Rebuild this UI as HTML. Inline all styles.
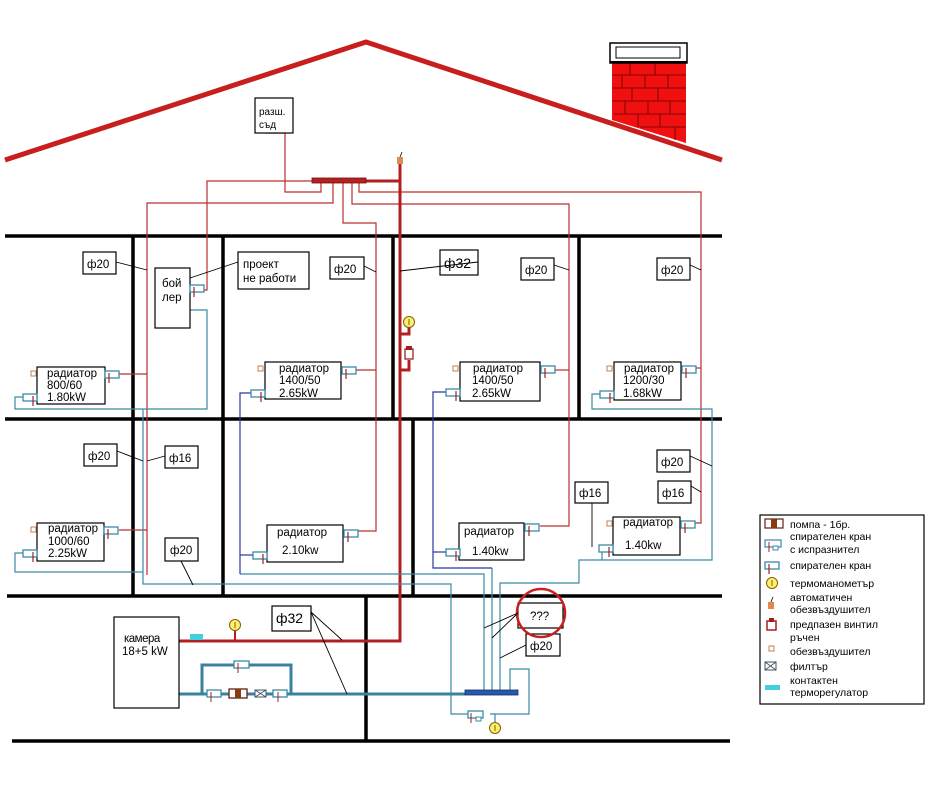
<!DOCTYPE html>
<html><head><meta charset="utf-8"><style>
html,body{margin:0;padding:0;background:#fff}
svg{display:block}
text{font-family:"Liberation Sans",sans-serif;font-size:11.5px;fill:#000}
</style></head><body>
<svg width="942" height="797" viewBox="0 0 942 797" xmlns="http://www.w3.org/2000/svg">
<defs>
<g id="v"><rect x="0" y="0" width="14" height="7" fill="#fff" stroke="#3a8aa8" stroke-width="1.3"/><line x1="4" y1="2" x2="4" y2="12" stroke="#a02020" stroke-width="1.2"/></g>
<g id="vl"><rect x="0" y="0" width="14" height="7" fill="#fff" stroke="#3a8aa8" stroke-width="1.3"/><line x1="10" y1="2" x2="10" y2="12" stroke="#a02020" stroke-width="1.2"/></g>
<g id="av"><rect x="0" y="0" width="5" height="5" fill="#fff" stroke="#c08050" stroke-width="1"/></g>
<g id="tm"><circle cx="0" cy="0" r="5.5" fill="#ffef70" stroke="#806000" stroke-width="1"/><line x1="0" y1="-3" x2="0" y2="3" stroke="#806000" stroke-width="1"/></g>
</defs>

<!-- roof -->
<polyline points="5,160 366,42 722,160" fill="none" stroke="#c81e1e" stroke-width="5"/>
<!-- chimney -->
<polygon points="612,62 686,62 686,143 612,120" fill="#f01010"/>
<g stroke="#600" stroke-width="0.8" fill="none">
<line x1="612" y1="75" x2="686" y2="75"/><line x1="612" y1="88" x2="686" y2="88"/><line x1="612" y1="101" x2="686" y2="101"/><line x1="614" y1="114" x2="686" y2="114"/><line x1="640" y1="127" x2="686" y2="127"/>
<line x1="630" y1="62" x2="630" y2="75"/><line x1="655" y1="62" x2="655" y2="75"/><line x1="622" y1="75" x2="622" y2="88"/><line x1="645" y1="75" x2="645" y2="88"/><line x1="668" y1="75" x2="668" y2="88"/>
<line x1="632" y1="88" x2="632" y2="101"/><line x1="658" y1="88" x2="658" y2="101"/><line x1="625" y1="101" x2="625" y2="114"/><line x1="648" y1="101" x2="648" y2="114"/><line x1="670" y1="101" x2="670" y2="114"/>
<line x1="638" y1="114" x2="638" y2="127"/><line x1="660" y1="114" x2="660" y2="127"/><line x1="675" y1="127" x2="675" y2="140"/>
</g>
<rect x="610" y="43" width="77" height="20" fill="#fff" stroke="#000" stroke-width="1.5"/>
<rect x="616" y="47" width="64" height="11" fill="#fff" stroke="#000" stroke-width="1"/>
<line x1="610" y1="62" x2="687" y2="62" stroke="#000" stroke-width="2"/>
<polygon points="612,120 686,143 722,160 686,150" fill="#fff" opacity="0"/>

<!-- floors & walls -->
<g stroke="#000" stroke-width="3.5">
<line x1="5" y1="236" x2="722" y2="236"/>
<line x1="5" y1="419" x2="722" y2="419"/>
<line x1="7" y1="596" x2="722" y2="596"/>
<line x1="12" y1="741" x2="730" y2="741"/>
<line x1="133" y1="236" x2="133" y2="596"/>
<line x1="223" y1="236" x2="223" y2="596"/>
<line x1="393" y1="236" x2="393" y2="419"/>
<line x1="413" y1="419" x2="413" y2="596"/>
<line x1="579" y1="236" x2="579" y2="419"/>
<line x1="366" y1="596" x2="366" y2="741"/>
</g>

<!-- red supply pipes -->
<g fill="none" stroke="#b83030" stroke-width="1.2">
<polyline points="265,133 285,133 285,192 321,192 321,183"/>
<polyline points="147,575 147,203 333,203 333,183"/>
<polyline points="190,290 207,290 207,181 312,181"/>
<polyline points="343,183 343,223 376,223 376,531 357,531"/>
<line x1="356" y1="370" x2="376" y2="370"/>
<polyline points="352,183 352,204 569,204 569,526 540,526"/>
<line x1="555" y1="370" x2="569" y2="370"/>
<polyline points="359,183 359,192 701,192 701,523 694,523"/>
<line x1="696" y1="368" x2="701" y2="368"/>
<line x1="119" y1="374" x2="147" y2="374"/>
<line x1="119" y1="530" x2="147" y2="530"/>
</g>
<g fill="none" stroke="#b02020" stroke-width="3">
<polyline points="179,641 400,641 400,163"/>
<line x1="366" y1="181" x2="400" y2="181"/>
<polyline points="400,334 409,334 409,327"/>
<polyline points="400,370 409,370 409,360"/>
</g>
<rect x="312" y="178" width="54" height="5" fill="#b82020" stroke="#701010" stroke-width="0.8"/>
<rect x="397" y="157" width="6" height="7" fill="#e08a50"/>
<line x1="400" y1="157" x2="402" y2="152" stroke="#000" stroke-width="0.8"/>
<use href="#tm" x="409" y="322"/>
<rect x="405" y="349" width="8" height="10" fill="#fff" stroke="#a02020" stroke-width="1.3"/>
<rect x="406" y="346" width="6" height="4" fill="#a02020"/>

<!-- blue return pipes -->
<g fill="none" stroke="#3a8aa8" stroke-width="1.2">
<polyline points="23,397 15,397 15,409 207,409 207,310 190,310"/>
<polyline points="143,409 143,584 451,584 451,714 468,714"/>
<polyline points="23,553 15,553 15,572 143,572"/>
<polyline points="490,714 529,714 529,669 510,669 510,690"/>
<line x1="495" y1="714" x2="495" y2="722"/>
<polyline points="240,574 484,574 484,690"/>
<polyline points="608,394 592,394 592,409 712,409 712,560 579,560 579,583 500,583 500,690"/>
<polyline points="602,547 602,560"/>
<line x1="492" y1="568" x2="492" y2="690"/>
</g>
<g fill="none" stroke="#2838a0" stroke-width="1.2">
<polyline points="251,393 240,393 240,574"/>
<polyline points="240,555 253,555"/>
<polyline points="447,392 433,392 433,568 492,568"/>
<polyline points="433,552 446,552"/>
</g>
<g fill="none" stroke="#3a80a0" stroke-width="3">
<polyline points="179,694 465,694"/>
<polyline points="202,694 202,665 291,665 291,694"/>
</g>
<rect x="190" y="634" width="13" height="6" fill="#40d0e0"/>
<line x1="235" y1="630" x2="235" y2="641" stroke="#b02020" stroke-width="2"/>
<use href="#tm" x="235" y="625"/>
<rect x="234" y="661" width="15" height="7" fill="#fff" stroke="#3a8aa8" stroke-width="1.3"/><line x1="238" y1="663" x2="238" y2="673" stroke="#a02020"/>
<rect x="207" y="690" width="14" height="7" fill="#fff" stroke="#3a8aa8" stroke-width="1.3"/><line x1="211" y1="692" x2="211" y2="702" stroke="#a02020"/>
<rect x="273" y="690" width="14" height="7" fill="#fff" stroke="#3a8aa8" stroke-width="1.3"/><line x1="278" y1="692" x2="278" y2="702" stroke="#a02020"/>
<rect x="229" y="689" width="18" height="9" fill="#fff" stroke="#602010" stroke-width="1.3"/><rect x="235" y="689" width="6" height="9" fill="#8a3a10"/>
<rect x="255" y="690" width="11" height="7" fill="#fff" stroke="#405060" stroke-width="1"/><path d="M255,690 L266,697 M266,690 L255,697" stroke="#405060" stroke-width="0.8"/>
<rect x="465" y="690" width="53" height="5" fill="#2858b0" stroke="#103060" stroke-width="0.8"/>
<rect x="468" y="711" width="15" height="7" fill="#fff" stroke="#3a8aa8" stroke-width="1.3"/><rect x="476" y="717" width="5" height="4" fill="#fff" stroke="#3a8aa8"/><line x1="471" y1="713" x2="471" y2="723" stroke="#a02020"/>
<use href="#tm" x="495" y="728"/>

<!-- radiators -->
<g fill="#fff" stroke="#000" stroke-width="1.2">
<rect x="37" y="367" width="68" height="37"/>
<rect x="155" y="268" width="35" height="60"/>
<rect x="238" y="252" width="71" height="37"/>
<rect x="265" y="362" width="76" height="37"/>
<rect x="460" y="362" width="80" height="39"/>
<rect x="614" y="362" width="67" height="38"/>
<rect x="37" y="523" width="67" height="38"/>
<rect x="267" y="525" width="76" height="37"/>
<rect x="459" y="523" width="65" height="37"/>
<rect x="613" y="517" width="67" height="38"/>
<rect x="114" y="617" width="65" height="91"/>
<rect x="83" y="252" width="33" height="22"/>
<rect x="330" y="257" width="34" height="22"/>
<rect x="440" y="250" width="38" height="25"/>
<rect x="521" y="258" width="33" height="22"/>
<rect x="657" y="258" width="33" height="22"/>
<rect x="84" y="444" width="33" height="22"/>
<rect x="165" y="446" width="33" height="22"/>
<rect x="165" y="538" width="33" height="23"/>
<rect x="657" y="450" width="33" height="22"/>
<rect x="658" y="481" width="33" height="22"/>
<rect x="575" y="482" width="33" height="21"/>
<rect x="272" y="606" width="39" height="25"/>
<rect x="518" y="603" width="45" height="25"/>
<rect x="526" y="634" width="34" height="22"/>
<rect x="255" y="98" width="38" height="35"/>
<rect x="760" y="515" width="164" height="189"/>
</g>
<circle cx="541" cy="613" r="24" fill="none" stroke="#c82020" stroke-width="2.5"/>

<!-- leaders -->
<g stroke="#000" stroke-width="0.9" fill="none">
<path d="M116,262 L147,270"/><path d="M364,266 L376,272"/><path d="M478,262 L400,271"/>
<path d="M554,265 L569,270"/><path d="M690,265 L701,270"/>
<path d="M117,451 L143,461 M147,461 L165,456"/>
<path d="M181,561 L193,585"/>
<path d="M690,456 L712,466"/><path d="M691,486 L701,492"/>
<path d="M592,503 L592,547"/>
<path d="M311,612 L342,640 M311,612 L347,694"/>
<path d="M518,613 L484,628 M518,613 L492,638 M526,645 L500,658"/>
<path d="M190,278 L238,262"/>
</g>

<!-- valves -->
<use href="#v" x="105" y="371"/><use href="#vl" x="23" y="394"/><use href="#av" x="31" y="371"/>
<use href="#v" x="190" y="285"/>
<use href="#v" x="342" y="367"/><use href="#vl" x="251" y="390"/><use href="#av" x="258" y="366"/>
<use href="#v" x="541" y="366"/><use href="#vl" x="446" y="389"/><use href="#av" x="453" y="366"/>
<use href="#v" x="682" y="366"/><use href="#vl" x="600" y="391"/><use href="#av" x="607" y="366"/>
<use href="#v" x="104" y="527"/><use href="#vl" x="23" y="550"/><use href="#av" x="31" y="527"/>
<use href="#v" x="344" y="530"/><use href="#vl" x="253" y="552"/>
<use href="#v" x="525" y="524"/><use href="#vl" x="446" y="549"/>
<use href="#v" x="681" y="521"/><use href="#vl" x="599" y="545"/><use href="#av" x="607" y="521"/>

<!-- texts -->
<text x="47" y="377">радиатор</text><text x="47" y="389">800/60</text><text x="47" y="401">1.80kW</text>
<text x="162" y="287">бой</text><text x="162" y="301">лер</text>
<text x="243" y="268">проект</text><text x="243" y="282">не работи</text>
<text x="279" y="372">радиатор</text><text x="279" y="384">1400/50</text><text x="279" y="397">2.65kW</text>
<text x="473" y="372">радиатор</text><text x="472" y="384">1400/50</text><text x="472" y="397">2.65kW</text>
<text x="624" y="372">радиатор</text><text x="623" y="384">1200/30</text><text x="623" y="397">1.68kW</text>
<text x="48" y="532">радиатор</text><text x="48" y="545">1000/60</text><text x="48" y="557">2.25kW</text>
<text x="277" y="536">радиатор</text><text x="282" y="554">2.10kw</text>
<text x="464" y="535">радиатор</text><text x="472" y="555">1.40kw</text>
<text x="623" y="526">радиатор</text><text x="625" y="549">1.40kw</text>
<text x="124" y="642" letter-spacing="-0.5">камера</text><text x="122" y="655">18+5 kW</text>
<text x="259" y="115" style="font-size:10px">разш.</text><text x="259" y="128" style="font-size:10px">съд</text>
<text x="87" y="268">ф20</text><text x="334" y="273">ф20</text><text x="444" y="268" style="font-size:14px">ф32</text>
<text x="525" y="274">ф20</text><text x="661" y="274">ф20</text>
<text x="88" y="460">ф20</text><text x="169" y="462">ф16</text><text x="170" y="554">ф20</text>
<text x="661" y="466">ф20</text><text x="662" y="497">ф16</text><text x="579" y="497">ф16</text>
<text x="276" y="623" style="font-size:14px">ф32</text>
<text x="530" y="620">???</text><text x="530" y="650">ф20</text>

<!-- legend -->
<rect x="765" y="519" width="18" height="9" fill="#fff" stroke="#602010" stroke-width="1.2"/><rect x="771" y="519" width="6" height="9" fill="#8a3a10"/>
<text x="790" y="528" style="font-size:10.5px">помпа - 1бр.</text>
<rect x="765" y="540" width="16" height="7" fill="#fff" stroke="#3a8aa8" stroke-width="1.2"/><rect x="773" y="546" width="5" height="4" fill="#fff" stroke="#3a8aa8"/><line x1="769" y1="542" x2="769" y2="552" stroke="#a02020"/>
<text x="790" y="540" style="font-size:10.5px">спирателен кран</text><text x="790" y="553" style="font-size:10.5px">с испразнител</text>
<use href="#v" x="765" y="562"/>
<text x="790" y="569" style="font-size:10.5px">спирателен кран</text>
<use href="#tm" x="772" y="583"/>
<text x="790" y="587" style="font-size:10.5px">термоманометър</text>
<rect x="768" y="602" width="6" height="7" fill="#e08a50"/><line x1="771" y1="602" x2="773" y2="597" stroke="#000" stroke-width="0.8"/>
<text x="790" y="601" style="font-size:10.5px">автоматичен</text><text x="790" y="613" style="font-size:10.5px">обезвъздушител</text>
<rect x="767" y="621" width="9" height="9" fill="#fff" stroke="#a02020" stroke-width="1.5"/><rect x="769" y="618" width="5" height="4" fill="#a02020"/>
<text x="790" y="628" style="font-size:10.5px">предпазен винтил</text>
<use href="#av" x="769" y="646"/>
<text x="790" y="641" style="font-size:10.5px">ръчен</text><text x="790" y="655" style="font-size:10.5px">обезвъздушител</text>
<rect x="765" y="662" width="11" height="8" fill="#fff" stroke="#405060"/><path d="M765,662 L776,670 M776,662 L765,670" stroke="#405060" stroke-width="0.8"/>
<text x="790" y="670" style="font-size:10.5px">филтър</text>
<rect x="765" y="685" width="15" height="5" fill="#40d0e0"/>
<text x="790" y="684" style="font-size:10.5px">контактен</text><text x="790" y="696" style="font-size:10.5px">терморегулатор</text>
</svg>
</body></html>
